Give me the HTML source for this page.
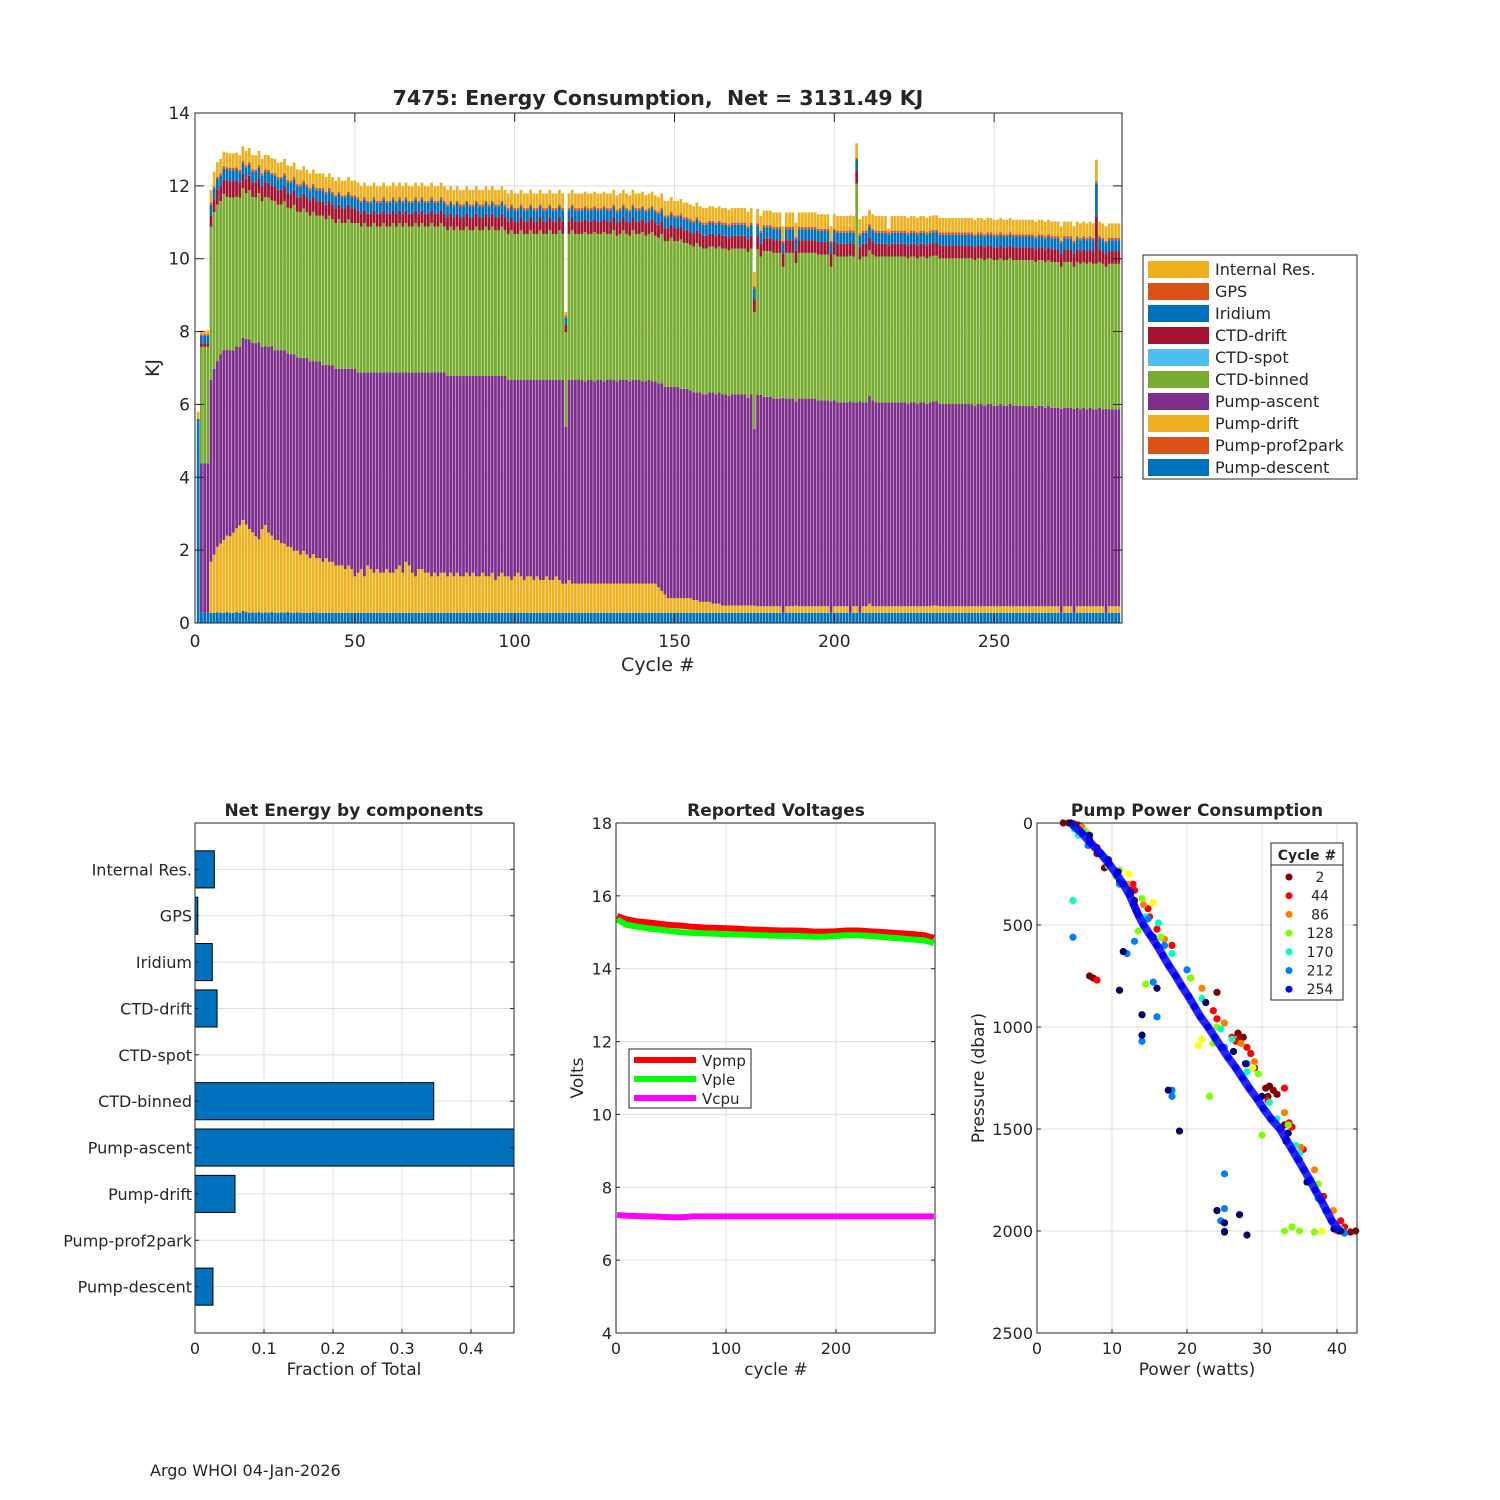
<!DOCTYPE html>
<html><head><meta charset="utf-8"><style>
body{margin:0;background:#fff;}
svg{display:block;font-family:"DejaVu Sans","Liberation Sans",sans-serif;}
text{fill:#262626;white-space:pre;}
</style></head><body>
<svg id="fig" width="1500" height="1500" viewBox="0 0 1500 1500" xmlns="http://www.w3.org/2000/svg">
<rect width="1500" height="1500" fill="#fff"/>
<g id="main"></g>
<g id="comp"></g>
<g id="volt"></g>
<g id="pump"></g>
<text x="150" y="1476" font-size="16">Argo WHOI 04-Jan-2026</text>
</svg>
<script>
// ===== Main chart data (per cycle, KJ) =====
const descent=[5.5,.28,.28,.28,.28,.28,.29,.28,.28,.30,
.28,.28,.30,.28,.33,.30,.28,.29,.28,.30,.28,.29,.28,.30,.28,.28,.29,.28,.30,.28,
.28,.29,.28,.28,.28,.28,.29,.28,.28,.28,.28,.28,.28,.28,.28,.28,.28,.28,.28,.28,
.28,.28,.28,.28,.28,.28,.28,.28,.28,.28,.28,.28,.28,.28,.28,.28,.28,.28,.28,.28,
.28,.28,.28,.28,.28,.28,.28,.28,.28,.28,.28,.28,.28,.28,.28,.28,.28,.28,.28,.28,
.28,.28,.28,.28,.28,.28,.28,.28,.28,.28,.28,.28,.28,.28,.28,.28,.28,.28,.28,.28,
.28,.28,.28,.28,.28,.28,.28,.28,.28,.28,.28,.28,.28,.28,.28,.28,.28,.28,.28,.28,
.28,.28,.28,.28,.28,.28,.28,.28,.28,.28,.28,.28,.28,.28,.28,.28,.28,.28,.28,.28,
.28,.28,.28,.28,.28,.28,.28,.28,.28,.28,.28,.28,.28,.28,.28,.28,.28,.28,.28,.28,
.28,.28,.28,.28,.28,.28,.28,.28,.28,.28,.28,.28,.28,.28,.28,.28,.28,.28,.28,.28,
.28,.28,.28,.28,.28,.28,.28,.28,.28,.28,.28,.28,.28,.28,.28,.28,.28,.28,.28,.28,
.28,.28,.28,.28,.28,.28,.28,.28,.28,.28,.28,.28,.28,.28,.28,.28,.28,.28,.28,.28,
.28,.28,.28,.28,.28,.28,.28,.28,.28,.28,.28,.28,.28,.28,.28,.28,.28,.28,.28,.28,
.28,.28,.28,.28,.28,.28,.28,.28,.28,.28,.28,.28,.28,.28,.28,.28,.28,.28,.28,.28,
.28,.28,.28,.28,.28,.28,.28,.28,.28,.28,.28,.28,.28,.28,.28,.28,.28,.28,.28];
const pumpDrift=[0,0,0,0,1.4,1.6,1.8,1.9,2.0,2.1,
2.1,2.2,2.3,2.4,2.5,2.4,2.3,2.2,2.1,2.0,
2.3,2.4,2.2,2.1,2.0,2.0,1.9,1.9,1.8,1.8,
1.7,1.7,1.6,1.7,1.6,1.5,1.6,1.5,1.5,1.4,
1.5,1.4,1.4,1.3,1.3,1.3,1.2,1.3,1.2,1.0,
1.1,1.2,1.0,1.3,1.2,1.1,1.2,1.1,1.1,1.2,
1.1,1.1,1.2,1.3,1.1,1.4,1.3,1.1,1.0,1.2,
1.2,1.1,1.1,1.0,1.1,1.0,1.1,1.1,1.0,1.1,
1.0,1.1,1.0,1.0,1.1,1.0,1.1,1.0,1.0,1.1,
1.0,1.0,1.1,0.9,1.0,1.1,1.0,1.0,0.9,1.0,
1.1,1.0,0.9,1.0,1.0,0.9,1.0,0.9,0.9,1.0,
0.9,0.9,1.0,0.9,0.8,0.8,0.9,0.8,0.8,0.8,
.8,.8,.8,.8,.8,.8,.8,.8,.8,.8,
.8,.8,.8,.8,.8,.8,.8,.8,.8,.8,
.8,.8,.8,.8,.7,.6,.5,.4,.4,.4,
.4,.4,.4,.4,.4,.35,.35,.3,.3,.3,
.3,.25,.25,.25,.2,.2,.2,.2,.2,.2,
.2,.2,.2,.2,.2,.18,.18,.18,.18,.18,
.18,.18,.18,0,.18,.18,.18,.2,.18,.18,
.18,.18,.18,.18,.18,.18,.18,.18,0,.18,
.18,.18,.18,.18,0,.18,.18,0,.18,.18,
.25,.18,.18,.18,.18,.18,.18,.18,.18,.18,
.18,.18,.18,.18,.18,.18,.18,.18,.18,.18,
.2,.2,.18,.18,.18,.18,.18,.18,.18,.18,
.18,.18,.18,.18,.18,.18,.18,.18,.18,.18,
.18,.18,.18,.18,.18,.18,.18,.18,.18,.18,
.18,.18,.18,.18,.18,.18,.18,.18,.18,.18,
0,.18,.18,.18,0,.18,.18,.18,.18,.18,
.18,.18,.18,.18,0,.18,.18,.18,.18];
const pumpAscent=[0,4.1,4.1,4.1,5.0,5.1,5.1,5.2,5.2,5.1,
5.1,5.0,5.0,4.9,5.0,5.1,5.2,5.2,5.3,5.4,
5.0,4.9,5.1,5.2,5.2,5.2,5.3,5.3,5.3,5.3,
5.4,5.3,5.4,5.3,5.4,5.4,5.3,5.4,5.4,5.4,
5.3,5.4,5.4,5.4,5.4,5.4,5.5,5.4,5.5,5.7,
5.5,5.4,5.6,5.3,5.4,5.5,5.4,5.5,5.5,5.4,
5.5,5.5,5.4,5.3,5.5,5.2,5.3,5.5,5.6,5.4,
5.4,5.5,5.5,5.6,5.5,5.6,5.5,5.5,5.5,5.4,
5.5,5.4,5.5,5.5,5.4,5.5,5.4,5.5,5.5,5.4,
5.5,5.5,5.4,5.6,5.5,5.4,5.5,5.4,5.5,5.4,
5.3,5.4,5.5,5.4,5.4,5.5,5.4,5.5,5.5,5.4,
5.5,5.5,5.4,5.5,5.6,4.3,5.5,5.6,5.6,5.6,
5.6,5.55,5.6,5.6,5.55,5.6,5.6,5.55,5.6,5.6,
5.6,5.55,5.6,5.6,5.6,5.55,5.6,5.6,5.6,5.55,
5.55,5.6,5.55,5.55,5.6,5.7,5.7,5.8,5.8,5.8,
5.8,5.75,5.75,5.75,5.7,5.7,5.7,5.75,5.7,5.7,
5.75,5.8,5.75,5.8,5.8,5.8,5.75,5.8,5.8,5.8,
5.8,5.8,5.7,5.8,4.85,5.8,5.8,5.75,5.75,5.75,
5.7,5.7,5.7,5.9,5.7,5.7,5.7,5.6,5.7,5.7,
5.7,5.7,5.7,5.7,5.65,5.65,5.65,5.65,5.8,5.65,
5.6,5.6,5.6,5.6,5.8,5.6,5.6,5.8,5.6,5.6,
5.7,5.65,5.6,5.6,5.6,5.6,5.6,5.6,5.6,5.6,
5.6,5.6,5.55,5.6,5.6,5.55,5.6,5.6,5.55,5.6,
5.6,5.6,5.55,5.55,5.55,5.55,5.55,5.55,5.55,5.55,
5.55,5.55,5.55,5.5,5.55,5.55,5.5,5.55,5.55,5.5,
5.5,5.55,5.5,5.5,5.55,5.5,5.5,5.5,5.5,5.5,
5.5,5.5,5.45,5.5,5.5,5.45,5.5,5.45,5.45,5.45,
5.6,5.45,5.45,5.45,5.6,5.45,5.4,5.45,5.4,5.45,
5.4,5.4,5.45,5.4,5.6,5.4,5.4,5.4,5.4];
const ctdBinned=[0,3.2,3.2,3.2,4.2,4.3,4.3,4.2,4.3,4.2,
4.2,4.2,4.1,4.1,4.1,4.0,4.1,4.0,4.0,4.1,
4.0,4.1,4.1,4.0,4.1,4.0,4.0,4.1,4.0,4.0,
4.1,4.0,4.0,4.1,4.0,4.0,4.1,4.0,4.0,4.1,
4.0,4.1,4.0,4.0,4.1,4.0,4.0,4.1,4.0,4.0,
4.1,4.0,4.1,4.0,4.0,4.1,4.0,4.0,4.1,4.0,
4.0,4.1,4.0,4.1,4.0,4.1,4.0,4.0,4.1,4.0,
4.1,4.0,4.0,4.1,4.0,4.0,4.1,4.0,4.0,4.1,
4.0,4.1,4.0,4.0,4.1,4.0,4.0,4.1,4.0,4.0,
4.1,4.0,4.1,4.0,4.0,4.1,4.0,4.0,4.1,4.0,
4.0,4.1,4.0,4.0,4.1,4.0,4.0,4.1,4.0,4.0,
4.1,4.0,4.0,4.1,4.0,2.6,4.0,4.1,4.0,4.0,
4.0,4.1,4.0,4.0,4.1,4.0,4.0,4.1,4.0,4.0,
4.1,4.0,4.0,4.1,4.0,4.0,4.1,4.0,4.0,4.1,
4.0,4.0,4.1,4.0,4.0,4.1,4.0,4.0,4.1,4.0,
4.0,4.1,4.0,4.0,4.0,4.0,4.1,4.0,4.0,4.0,
4.0,4.0,4.0,4.0,4.0,4.0,4.0,4.0,4.0,4.0,
4.0,4.0,4.0,4.0,3.2,4.0,3.8,4.0,4.0,4.0,
4.0,4.0,4.0,3.6,4.0,4.0,4.0,3.8,4.0,4.0,
4.0,4.0,4.0,4.0,4.0,4.0,4.0,4.0,3.7,4.0,
4.0,4.0,4.0,4.0,4.0,4.0,6.0,3.9,4.0,4.0,
4.0,4.0,4.0,4.0,4.0,4.0,4.0,4.0,4.0,4.0,
4.0,4.0,4.0,4.0,4.0,4.0,4.0,4.0,4.0,4.0,
4.0,4.0,4.0,4.0,4.0,4.0,4.0,4.0,4.0,4.0,
4.0,4.0,4.0,4.0,4.0,4.0,4.0,4.0,4.0,4.0,
4.0,4.0,4.0,4.0,4.0,4.0,4.0,4.0,4.0,4.0,
4.0,4.0,4.0,4.0,4.0,4.0,4.0,4.0,4.0,4.0,
3.9,4.0,4.0,4.0,3.9,4.0,4.0,4.0,4.0,4.0,
4.0,4.0,4.0,4.0,3.9,4.0,4.0,4.0,4.0];
const ctdDrift=[0,.1,.1,.1,.3,.35,.4,.4,.4,.45,
.45,.45,.45,.4,.4,.4,.4,.4,.4,.4,.4,.4,.4,.4,.4,.4,.4,.4,.4,.4,
.4,.4,.4,.4,.4,.4,.4,.4,.4,.4,.4,.4,.4,.4,.4,.4,.4,.4,.4,.4,
.35,.35,.35,.35,.35,.35,.35,.35,.35,.35,.35,.35,.35,.35,.35,.35,.35,.35,.35,.35,
.35,.35,.35,.35,.35,.35,.35,.35,.35,.35,.35,.35,.35,.35,.35,.35,.35,.35,.35,.35,
.35,.35,.35,.35,.35,.35,.35,.35,.35,.35,.35,.35,.35,.35,.35,.35,.35,.35,.35,.35,
.35,.35,.35,.35,.35,.2,.35,.35,.35,.35,.35,.35,.35,.35,.35,.35,.35,.35,.35,.35,
.35,.35,.35,.35,.35,.35,.35,.35,.35,.35,.35,.35,.35,.35,.35,.35,.35,.35,.35,.35,
.35,.35,.35,.35,.35,.35,.35,.35,.35,.35,.35,.35,.35,.35,.35,.35,.35,.35,.35,.35,
.35,.35,.35,.35,.35,.35,.35,.35,.35,.35,.35,.35,.35,.35,.35,.35,.35,.35,.35,.35,
.35,.35,.35,.35,.35,.35,.35,.35,.35,.35,.35,.35,.35,.35,.35,.35,.35,.35,.35,.35,
.35,.35,.35,.35,.35,.35,.3,.35,.35,.35,.35,.35,.35,.35,.35,.35,.35,.35,.35,.35,
.35,.35,.35,.35,.35,.35,.35,.35,.35,.35,.35,.35,.35,.35,.35,.35,.35,.35,.35,.35,
.35,.35,.35,.35,.35,.35,.35,.35,.35,.35,.35,.35,.35,.35,.35,.35,.35,.35,.35,.35,
.35,.35,.35,.35,.35,.35,.35,.35,.35,.35,.35,1.3,.35,.35,.35,.35,.35,.35,.35];
const iridium=[.1,.2,.2,.2,.3,.3,.3,.3,.3,.3,
.3,.3,.3,.3,.3,.3,.3,.3,.3,.3,.3,.3,.3,.3,.3,.3,.3,.3,.3,.3,
.3,.3,.3,.3,.3,.3,.3,.3,.3,.3,.3,.3,.3,.3,.3,.3,.3,.3,.3,.3,
.3,.3,.3,.3,.3,.3,.3,.3,.3,.3,.3,.3,.3,.3,.3,.3,.3,.3,.3,.3,
.3,.3,.3,.3,.3,.3,.3,.3,.3,.3,.3,.3,.3,.3,.3,.3,.3,.3,.3,.3,
.3,.3,.3,.3,.3,.3,.3,.3,.3,.3,.3,.3,.3,.3,.3,.3,.3,.3,.3,.3,
.3,.3,.3,.3,.3,.2,.3,.3,.3,.3,.3,.3,.3,.3,.3,.3,.3,.3,.3,.3,
.3,.3,.3,.3,.3,.3,.3,.3,.3,.3,.3,.3,.3,.3,.3,.3,.3,.3,.3,.3,
.3,.3,.3,.3,.3,.3,.3,.3,.3,.3,.3,.3,.3,.3,.3,.3,.3,.3,.3,.3,
.3,.3,.3,.3,.3,.3,.3,.3,.3,.3,.3,.3,.3,.3,.3,.3,.3,.3,.3,.3,
.3,.3,.3,.3,.3,.3,.3,.3,.3,.3,.3,.3,.3,.3,.3,.3,.3,.3,.3,.3,
.3,.3,.3,.3,.3,.3,.3,.3,.3,.3,.3,.3,.3,.3,.3,.3,.3,.3,.3,.3,
.3,.3,.3,.3,.3,.3,.3,.3,.3,.3,.3,.3,.3,.3,.3,.3,.3,.3,.3,.3,
.3,.3,.3,.3,.3,.3,.3,.3,.3,.3,.3,.3,.3,.3,.3,.3,.3,.3,.3,.3,
.3,.3,.3,.3,.3,.3,.3,.3,.3,.3,.3,.9,.3,.3,.3,.3,.3,.3,.3];
const gps=[0,.05,.05,.05,.06,.06,.06,.06,.06,.06,
.06,.06,.06,.06,.06,.06,.06,.06,.06,.06,.06,.06,.06,.06,.06,.06,.06,.06,.06,.06,
.06,.06,.06,.06,.06,.06,.06,.06,.06,.06,.06,.06,.06,.06,.06,.06,.06,.06,.06,.06,
.06,.06,.06,.06,.06,.06,.06,.06,.06,.06,.06,.06,.06,.06,.06,.06,.06,.06,.06,.06,
.06,.06,.06,.06,.06,.06,.06,.06,.06,.06,.06,.06,.06,.06,.06,.06,.06,.06,.06,.06,
.06,.06,.06,.06,.06,.06,.06,.06,.06,.06,.06,.06,.06,.06,.06,.06,.06,.06,.06,.06,
.06,.06,.06,.06,.06,.06,.06,.06,.06,.06,.06,.06,.06,.06,.06,.06,.06,.06,.06,.06,
.06,.06,.06,.06,.06,.06,.06,.06,.06,.06,.06,.06,.06,.06,.06,.06,.06,.06,.06,.06,
.06,.06,.06,.06,.06,.06,.06,.06,.06,.06,.06,.06,.06,.06,.06,.06,.06,.06,.06,.06,
.06,.06,.06,.06,.06,.06,.06,.06,.06,.06,.06,.06,.06,.06,.06,.06,.06,.06,.06,.06,
.06,.06,.06,.06,.06,.06,.06,.06,.06,.06,.06,.06,.06,.06,.06,.06,.06,.06,.06,.06,
.06,.06,.06,.06,.06,.06,.06,.06,.06,.06,.06,.06,.06,.06,.06,.06,.06,.06,.06,.06,
.06,.06,.06,.06,.06,.06,.06,.06,.06,.06,.06,.06,.06,.06,.06,.06,.06,.06,.06,.06,
.06,.06,.06,.06,.06,.06,.06,.06,.06,.06,.06,.06,.06,.06,.06,.06,.06,.06,.06,.06,
.06,.06,.06,.06,.06,.06,.06,.06,.06,.06,.06,.06,.06,.06,.06,.06,.06,.06,.06];
const internalRes=[.2,.1,.1,.1,.35,.4,.4,.4,.4,.4,
.4,.4,.4,.4,.4,.4,.4,.4,.4,.4,.4,.4,.4,.4,.4,.4,.4,.4,.4,.4,
.4,.4,.4,.4,.4,.4,.4,.4,.4,.4,.4,.4,.4,.4,.4,.4,.4,.4,.4,.4,
.4,.4,.4,.4,.4,.4,.4,.4,.4,.4,.4,.4,.4,.4,.4,.4,.4,.4,.4,.4,
.4,.4,.4,.4,.4,.4,.4,.4,.4,.4,.4,.4,.4,.4,.4,.4,.4,.4,.4,.4,
.4,.4,.4,.4,.4,.4,.4,.4,.4,.4,.4,.4,.4,.4,.4,.4,.4,.4,.4,.4,
.4,.4,.4,.4,.4,.1,.4,.4,.4,.4,.4,.4,.4,.4,.4,.4,.4,.4,.4,.4,
.4,.4,.4,.4,.4,.4,.4,.4,.4,.4,.4,.4,.4,.4,.4,.4,.4,.4,.4,.4,
.4,.4,.4,.4,.4,.4,.4,.4,.4,.4,.4,.4,.4,.4,.4,.4,.4,.4,.4,.4,
.4,.4,.4,.4,.4,.4,.4,.4,.4,.4,.4,.4,.4,.4,.4,.4,.4,.4,.4,.4,
.4,.4,.4,.4,.4,.4,.4,.4,.4,.4,.4,.4,.4,.4,.4,.4,.4,.4,.4,.4,
.4,.4,.4,.4,.4,.4,.1,.4,.4,.4,.4,.4,.4,.4,.4,.4,.4,.4,.4,.4,
.4,.4,.4,.4,.4,.4,.4,.4,.4,.4,.4,.4,.4,.4,.4,.4,.4,.4,.4,.4,
.4,.4,.4,.4,.4,.4,.4,.4,.4,.4,.4,.4,.4,.4,.4,.4,.4,.4,.4,.4,
.4,.4,.4,.4,.4,.4,.4,.4,.4,.4,.4,.6,.4,.4,.4,.4,.4,.4,.4];
const seriesNames=["Pump-descent","Pump-drift","Pump-ascent","CTD-binned","CTD-drift","Iridium","GPS","Internal Res."];
const yTicksMain=[0,2,4,6,8,10,12,14];
const xTicksMain=[0,50,100,150,200,250];
// ===== Components (fraction of total) =====
const compNames=["Internal Res.","GPS","Iridium","CTD-drift","CTD-spot","CTD-binned","Pump-ascent","Pump-drift","Pump-prof2park","Pump-descent"];
const compValues=[0.028,0.004,0.025,0.032,0,0.346,0.48,0.058,0,0.026];
const compTicks=[0,0.1,0.2,0.3,0.4];
// ===== Voltages =====
const vCycles=[1,10,20,30,40,50,60,70,80,90,100,110,120,130,140,150,160,170,180,190,200,210,220,230,240,250,260,270,280,289];
const vpmp=[15.45,15.35,15.3,15.27,15.23,15.2,15.18,15.15,15.13,15.12,15.11,15.1,15.08,15.07,15.06,15.05,15.05,15.04,15.02,15.02,15.03,15.05,15.05,15.03,15.01,14.99,14.97,14.95,14.92,14.85];
const vple=[15.35,15.2,15.15,15.1,15.07,15.03,15.0,14.98,14.97,14.96,14.95,14.94,14.93,14.92,14.91,14.9,14.9,14.89,14.88,14.88,14.9,14.92,14.92,14.9,14.88,14.85,14.83,14.8,14.78,14.7];
const vcpu=[7.24,7.22,7.21,7.2,7.19,7.18,7.18,7.2,7.2,7.2,7.2,7.2,7.2,7.2,7.2,7.2,7.2,7.2,7.2,7.2,7.2,7.2,7.2,7.2,7.2,7.2,7.2,7.2,7.2,7.2];
const voltTicksY=[4,6,8,10,12,14,16,18];
const voltTicksX=[0,100,200];
// ===== Pump power scatter (power W, pressure dbar) =====
const legCycles=[2,44,86,128,170,212,254];
const g0P=[3.5,4.2,5.5,6,7,8,9,11,12.5,13,7.5,7,24,26.8,27,30.5,31.5,32,29,42.5,41.8,33,31,30.8,27.5];
const g0D=[0,0,10,30,80,150,220,290,330,380,760,750,830,1030,1060,1300,1310,1330,1200,2000,2005,1480,1290,1340,1050];
const g1P=[5,8,13,15,16,18,23.5,24,26,28,33,34,35.5,40.5,41,8,26.5,28.5,12.8,14.8,20.5,30.8,38.2,33.6];
const g1D=[5,120,330,460,520,600,920,960,1050,1100,1300,1490,1600,1950,1980,770,1070,1130,300,420,760,1360,1830,1470];
const g2P=[6,12,17,22,25,29,33,37,39.5,40,20,14.2,27.2,35.2];
const g2D=[20,300,570,810,980,1170,1420,1700,1900,2000,720,400,1080,1590];
const gyP=[38,21.5,22,15.5,28.8,12.2];
const gyD=[2000,1090,1060,390,1200,250];
const g3P=[6.5,10.5,14,16.5,20.5,24,29.5,33.5,37.5,11,13.5,14.5,23,30,33,34,35,23.5,37,9.5,16];
const g3D=[40,260,370,560,760,1000,1230,1480,1770,230,530,790,1340,1530,2000,1980,2000,1080,2005,210,600];
const g4P=[5,9,14.5,18,22,26,31,35,38.5,40.5,28,34.5,32,5.5,4.8,16.2,24.5];
const g4D=[30,170,460,640,860,1060,1370,1620,1900,1990,1220,1580,1450,60,380,490,1010];
const g5P=[4.8,12,15.5,16,14,18,18,24,24.5,25,25,25,13,17,20,25,28,35,37.5,40,41,11,9.5,6.8,14.8];
const g5D=[560,640,780,950,1070,1310,1340,1900,1950,2000,1720,1890,580,600,720,1100,1180,1650,1840,1990,2010,300,200,110,470];
const g6P=[4.5,6,7.2,8.5,9.6,10.6,11.5,12.3,12.9,13.5,14.2,15.1,16,16.8,17.6,18.5,19.3,20.2,21,21.8,22.8,23.7,24.6,25.5,26.5,27.4,28.3,29.3,30.2,31.2,32.4,33.2,34,34.8,35.6,36.4,37.1,37.9,38.6,39.3,40.3];
const g6D=[0,50,100,150,200,250,300,350,400,450,500,550,600,650,700,750,800,850,900,950,1000,1050,1100,1150,1200,1250,1300,1350,1400,1450,1500,1550,1600,1650,1700,1750,1800,1850,1900,1950,2000];
const g7P=[4.5,7,9.5,11.5,11,14,14,16,17.5,19,25,25,27,28,36,33.5,40.5,30,22.5,12.5,24,13.2,15.5,26.2,27.8,33.2,39.6,10.8];
const g7D=[0,60,180,630,820,940,1040,810,1310,1510,1960,2005,1920,2020,1760,1520,2000,1340,880,340,1900,430,560,1120,1180,1560,1990,240];
const pumpTicksX=[0,10,20,30,40];
const pumpTicksY=[0,500,1000,1500,2000,2500];

const NS="http://www.w3.org/2000/svg";
function mk(parent,tag,attrs,txt){const e=document.createElementNS(NS,tag);for(const k in attrs)e.setAttribute(k,attrs[k]);if(txt!==undefined)e.textContent=txt;parent.appendChild(e);return e;}
const AX="#262626", GRID="#dfdfdf";
const colors=["#0072bd","#edb120","#7e2f8e","#77ac30","#a2142f","#0072bd","#d95319","#edb120"];

// ---------- MAIN ----------
(function(){
const g=document.getElementById('main');
const L=195,R=1122,T=113,B=623;
const X=c=>L+c*(R-L)/290, Y=v=>B-v*(B-T)/14;
yTicksMain.forEach(v=>{const l=mk(g,'line',{x1:L,x2:R,y1:Y(v),y2:Y(v),stroke:GRID});

});
xTicksMain.forEach(c=>{const l=mk(g,'line',{x1:X(c),x2:X(c),y1:T,y2:B,stroke:GRID});

});
const series=[descent,pumpDrift,pumpAscent,ctdBinned,ctdDrift,iridium,gps,internalRes];
const bw=(R-L)/290*0.86;
for(let i=0;i<descent.length;i++){
  let base=0;const c=i+1;
  series.forEach((s,k)=>{const v=s[i];if(v>0){const r=mk(g,'rect',{x:X(c)-bw/2,y:Y(base+v),width:bw,height:Y(base)-Y(base+v),fill:colors[k]});
  
  }base+=v;});
}
mk(g,'rect',{x:L,y:T,width:R-L,height:B-T,fill:'none',stroke:AX,'stroke-width':1});
yTicksMain.forEach(v=>{mk(g,'line',{x1:L,x2:L+9,y1:Y(v),y2:Y(v),stroke:AX});mk(g,'line',{x1:R-9,x2:R,y1:Y(v),y2:Y(v),stroke:AX});
const t=mk(g,'text',{x:L-5,y:Y(v)+6,'text-anchor':'end','font-size':17},v);

});
xTicksMain.forEach(c=>{mk(g,'line',{x1:X(c),x2:X(c),y1:B,y2:B-9,stroke:AX});mk(g,'line',{x1:X(c),x2:X(c),y1:T,y2:T+9,stroke:AX});
const t=mk(g,'text',{x:X(c),y:B+24,'text-anchor':'middle','font-size':17},c);

});
let t=mk(g,'text',{x:658,y:105,'text-anchor':'middle','font-size':20.5,'font-weight':'bold','xml:space':'preserve'},'7475: Energy Consumption,  Net = 3131.49 KJ');


t=mk(g,'text',{x:658,y:671,'text-anchor':'middle','font-size':19},'Cycle #');


t=mk(g,'text',{x:159,y:368,'text-anchor':'middle','font-size':19,transform:'rotate(-90 159 368)'},'KJ');


const lg=mk(g,'g',{});


mk(lg,'rect',{x:1143,y:255,width:214,height:224,fill:'#fff',stroke:AX});
const legNames=["Internal Res.","GPS","Iridium","CTD-drift","CTD-spot","CTD-binned","Pump-ascent","Pump-drift","Pump-prof2park","Pump-descent"];
const legCols=["#edb120","#d95319","#0072bd","#a2142f","#4dbeee","#77ac30","#7e2f8e","#edb120","#d95319","#0072bd"];
legNames.forEach((n,i)=>{const y=269+i*22;
const e=mk(lg,'g',{});


mk(e,'rect',{x:1148,y:y-8,width:61,height:17,fill:legCols[i]});
mk(e,'text',{x:1215,y:y+6,'font-size':16},n);});
})();

// ---------- COMPONENTS ----------
(function(){
const g=document.getElementById('comp');
const L=195,R=514,T=823,B=1333;
const X=f=>L+f*690, Y=k=>T+(k+1)*(B-T)/11;
compTicks.forEach(f=>{const l=mk(g,'line',{x1:X(f),x2:X(f),y1:T,y2:B,stroke:GRID});

});
compNames.forEach((n,k)=>{const l=mk(g,'line',{x1:L,x2:R,y1:Y(k),y2:Y(k),stroke:GRID});

});
const bh=(B-T)/11*0.8;
compValues.forEach((v,k)=>{if(v<=0)return;const w=Math.min(X(v),R)-L;
const r=mk(g,'rect',{x:L,y:Y(k)-bh/2,width:w,height:bh,fill:'#0072bd',stroke:'#000','stroke-width':1});

});
mk(g,'rect',{x:L,y:T,width:R-L,height:B-T,fill:'none',stroke:AX});
compNames.forEach((n,k)=>{mk(g,'line',{x1:L,x2:L+4,y1:Y(k),y2:Y(k),stroke:AX});mk(g,'line',{x1:R-4,x2:R,y1:Y(k),y2:Y(k),stroke:AX});
const t=mk(g,'text',{x:L-3,y:Y(k)+6,'text-anchor':'end','font-size':16},n);

});
compTicks.forEach(f=>{mk(g,'line',{x1:X(f),x2:X(f),y1:B,y2:B-4,stroke:AX});
const t=mk(g,'text',{x:X(f),y:B+21,'text-anchor':'middle','font-size':16},f);

});
let t=mk(g,'text',{x:354,y:816,'text-anchor':'middle','font-size':17,'font-weight':'bold'},'Net Energy by components');


t=mk(g,'text',{x:354,y:1375,'text-anchor':'middle','font-size':17},'Fraction of Total');


})();

// ---------- VOLTAGES ----------
(function(){
const g=document.getElementById('volt');
const L=616,R=935,T=823,B=1333;
const X=c=>L+c*(R-L)/290, Y=v=>B-(v-4)*(B-T)/14;
voltTicksY.forEach(v=>{const l=mk(g,'line',{x1:L,x2:R,y1:Y(v),y2:Y(v),stroke:GRID});

});
voltTicksX.forEach(c=>{const l=mk(g,'line',{x1:X(c),x2:X(c),y1:T,y2:B,stroke:GRID});

});
[[vpmp,'#ff0000','vpmp-line'],[vple,'#00ff00','vple-line'],[vcpu,'#ff00ff','vcpu-line']].forEach(([arr,col,nm])=>{
const d=arr.map((v,i)=>(i?'L':'M')+X(vCycles[i]).toFixed(1)+' '+Y(v).toFixed(1)).join(' ');
const p=mk(g,'path',{d:d,fill:'none',stroke:col,'stroke-width':6,'stroke-linejoin':'round'});

});
mk(g,'rect',{x:L,y:T,width:R-L,height:B-T,fill:'none',stroke:AX});
voltTicksY.forEach(v=>{mk(g,'line',{x1:L,x2:L+4,y1:Y(v),y2:Y(v),stroke:AX});mk(g,'line',{x1:R-4,x2:R,y1:Y(v),y2:Y(v),stroke:AX});
const t=mk(g,'text',{x:L-4,y:Y(v)+6,'text-anchor':'end','font-size':16},v);

});
voltTicksX.forEach(c=>{mk(g,'line',{x1:X(c),x2:X(c),y1:B,y2:B-4,stroke:AX});
const t=mk(g,'text',{x:X(c),y:B+21,'text-anchor':'middle','font-size':16},c);

});
let t=mk(g,'text',{x:776,y:816,'text-anchor':'middle','font-size':17,'font-weight':'bold'},'Reported Voltages');


t=mk(g,'text',{x:776,y:1375,'text-anchor':'middle','font-size':17},'cycle #');


t=mk(g,'text',{x:583,y:1078,'text-anchor':'middle','font-size':17,transform:'rotate(-90 583 1078)'},'Volts');


const lg=mk(g,'g',{});


mk(lg,'rect',{x:629,y:1049,width:122,height:59,fill:'#fff',stroke:AX});
[['Vpmp','#ff0000'],['Vple','#00ff00'],['Vcpu','#ff00ff']].forEach(([n,c],i)=>{const y=1060+i*19;
const e=mk(lg,'g',{});


mk(e,'line',{x1:634,x2:696,y1:y,y2:y,stroke:c,'stroke-width':6});
mk(e,'text',{x:702,y:y+6,'font-size':15},n);});
})();

// ---------- PUMP POWER ----------
(function(){
const g=document.getElementById('pump');
const L=1037,R=1357,T=823,B=1333;
const X=p=>L+p*7.5, Y=d=>T+d*(B-T)/2500;
pumpTicksY.forEach(v=>{const l=mk(g,'line',{x1:L,x2:R,y1:Y(v),y2:Y(v),stroke:GRID});

});
pumpTicksX.forEach(p=>{const l=mk(g,'line',{x1:X(p),x2:X(p),y1:T,y2:B,stroke:GRID});

});
const groups=[[g0P,g0D,'#800000'],[g1P,g1D,'#ff0000'],[g2P,g2D,'#ff8000'],[gyP,gyD,'#ffff00'],[g3P,g3D,'#80ff00'],[g4P,g4D,'#00ffc0'],[g5P,g5D,'#0080ff'],[g6P,g6D,'#0000ff'],[g7P,g7D,'#000066']];
groups.forEach(([P,D,col])=>{P.forEach((p,i)=>{
const c=mk(g,'circle',{cx:X(p),cy:Y(D[i]),r:3.6,fill:col});

});});
const band=mk(g,'path',{d:g6P.map((p,i)=>(i?'L':'M')+X(p).toFixed(1)+' '+Y(g6D[i]).toFixed(1)).join(' '),fill:'none',stroke:'#0000ff','stroke-width':8,'stroke-linejoin':'round',opacity:0.85});


mk(g,'rect',{x:L,y:T,width:R-L,height:B-T,fill:'none',stroke:AX});
pumpTicksY.forEach(v=>{mk(g,'line',{x1:L,x2:L+4,y1:Y(v),y2:Y(v),stroke:AX});mk(g,'line',{x1:R-4,x2:R,y1:Y(v),y2:Y(v),stroke:AX});
const t=mk(g,'text',{x:L-4,y:Y(v)+6,'text-anchor':'end','font-size':16},v);

});
pumpTicksX.forEach(p=>{mk(g,'line',{x1:X(p),x2:X(p),y1:B,y2:B-4,stroke:AX});
const t=mk(g,'text',{x:X(p),y:B+21,'text-anchor':'middle','font-size':16},p);

});
let t=mk(g,'text',{x:1197,y:816,'text-anchor':'middle','font-size':17,'font-weight':'bold'},'Pump Power Consumption');


t=mk(g,'text',{x:1197,y:1375,'text-anchor':'middle','font-size':17},'Power (watts)');


t=mk(g,'text',{x:984,y:1078,'text-anchor':'middle','font-size':17,transform:'rotate(-90 984 1078)'},'Pressure (dbar)');


const lg=mk(g,'g',{});


mk(lg,'rect',{x:1271,y:843,width:72,height:157,fill:'#fff',stroke:AX});
mk(lg,'line',{x1:1271,x2:1343,y1:865,y2:865,stroke:AX});
mk(lg,'text',{x:1307,y:860,'text-anchor':'middle','font-size':14,'font-weight':'bold'},'Cycle #');
const lc=['#800000','#ff0000','#ff8000','#80ff00','#00ffc0','#0080ff','#0000ff'];
legCycles.forEach((c,i)=>{const y=877+i*18.7;
const e=mk(lg,'g',{});


mk(e,'circle',{cx:1289,cy:y,r:3.5,fill:lc[i]});
mk(e,'text',{x:1320,y:y+5,'text-anchor':'middle','font-size':14},c);});
})();
</script>
</body></html>
